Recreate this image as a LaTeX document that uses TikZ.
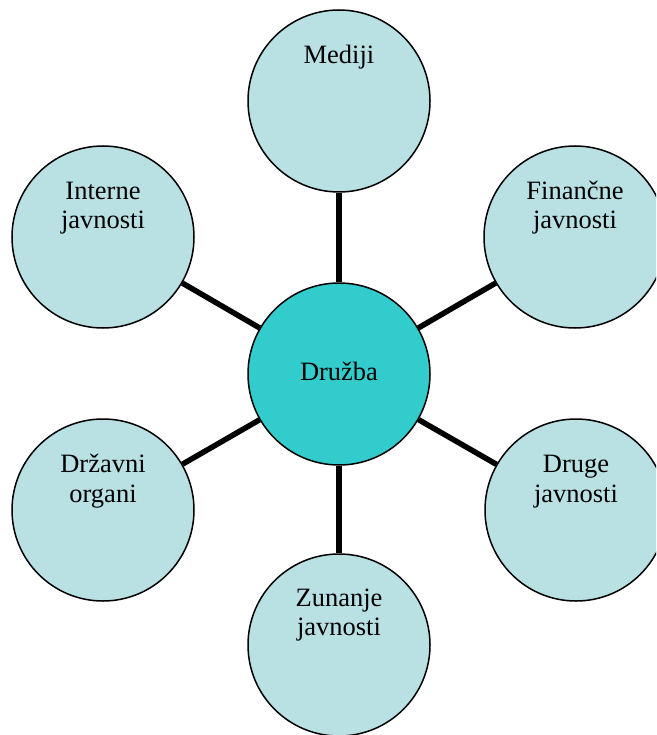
\documentclass[tikz,border=0pt]{standalone}
\usepackage{fontspec}
\setmainfont{Liberation Serif}
\definecolor{outerfill}{RGB}{185,224,227}
\definecolor{centerfill}{RGB}{51,204,204}
\begin{document}
\begin{tikzpicture}[x=1pt,y=-1pt,
  bubble/.style={circle, draw=black, line width=1.5pt, minimum size=182pt, inner sep=0pt, fill=outerfill},
  hub/.style={bubble, fill=centerfill},
  lbl/.style={font=\fontsize{26.5pt}{29.5pt}\selectfont, align=center, anchor=base, inner sep=0pt},
  conn/.style={line width=5.5pt, black}]
\useasboundingbox (0,0) rectangle (656,735);
\clip (0,0) rectangle (656,735);
\node[hub] (c) at (339,374) {};
\node[bubble] (m) at (339,101) {};
\node[bubble] (f) at (575,237) {};
\node[bubble] (d) at (576,510) {};
\node[bubble] (z) at (339,645) {};
\node[bubble] (s) at (103,510) {};
\node[bubble] (i) at (103,237) {};
\draw[conn] (c) -- (m);
\draw[conn] (c) -- (f);
\draw[conn] (c) -- (d);
\draw[conn] (c) -- (z);
\draw[conn] (c) -- (s);
\draw[conn] (c) -- (i);
\node[lbl] (tc) at (339,380) {Družba};
\node[lbl] (tm) at (339,63.5) {Mediji};
\node[lbl] (tf) at (575,229) {Finančne\\javnosti};
\node[lbl] (td) at (576,502) {Druge\\javnosti};
\node[lbl] (tz) at (339,635.5) {Zunanje\\javnosti};
\node[lbl] (ts) at (103,502) {Državni\\organi};
\node[lbl] (ti) at (103,229) {Interne\\javnosti};
\end{tikzpicture}
\end{document}
